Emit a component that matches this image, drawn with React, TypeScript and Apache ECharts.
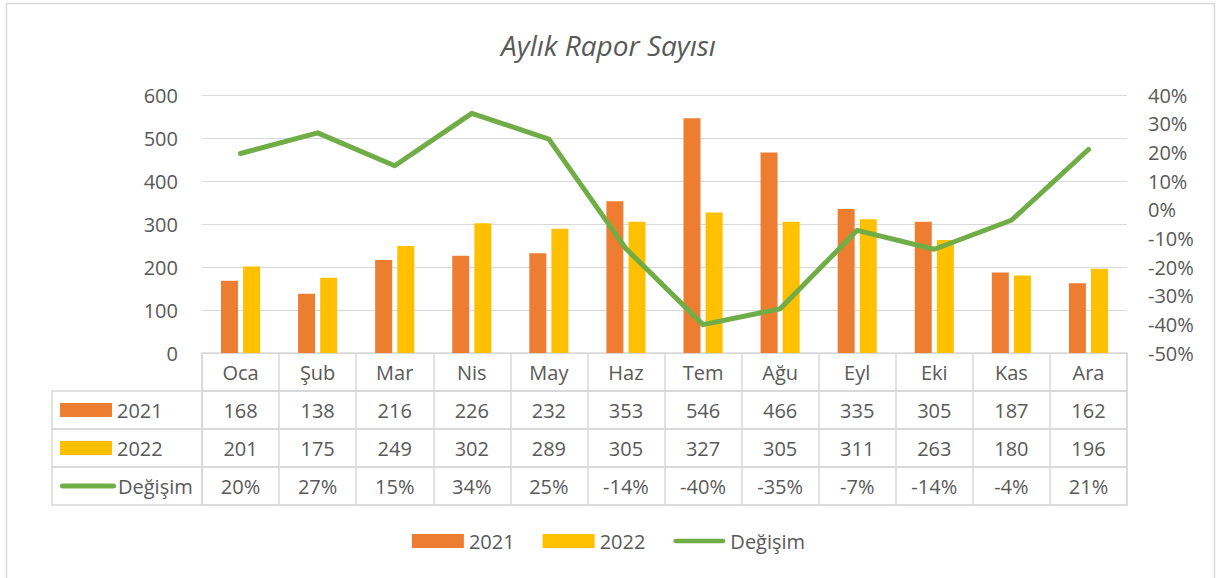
import React, { useEffect, useRef } from 'react';
import * as echarts from 'echarts';

const months = ['Oca', 'Şub', 'Mar', 'Nis', 'May', 'Haz', 'Tem', 'Ağu', 'Eyl', 'Eki', 'Kas', 'Ara'];
const values2021 = [168, 138, 216, 226, 232, 353, 546, 466, 335, 305, 187, 162];
const values2022 = [201, 175, 249, 302, 289, 305, 327, 305, 311, 263, 180, 196];
const changeValues = [0.196, 0.268, 0.153, 0.336, 0.246, -0.136, -0.401, -0.346, -0.072, -0.138, -0.037, 0.21];
const seriesNames = ['2021', '2022', 'Değişim'];
const titleText = 'Aylık Rapor Sayısı';
const leftAxis = { min: 0, max: 600, interval: 100 };
const rightAxis = { min: -0.5, max: 0.4, interval: 0.1 };

const COLORS = ['#ED7D31', '#FFC000', '#70AD47'];
const TEXT = '#595959';
const BORDER = '#D9D9D9';
const FONT = '"Open Sans", "Noto Sans", sans-serif';
const FS = 20;

// layout
const W = 1217;
const H = 578;
const PLOT_L = 202;
const PLOT_R = 1127;
const PLOT_T = 95;
const PLOT_B = 353;
const ROW_H = 38;
const KEY_X = 60;
const TABLE_L = 52;

const pct = (v: number) => `${Math.round(v * 100)}%`;

export default function App() {
  const ref = useRef<HTMLDivElement>(null);

  useEffect(() => {
    if (!ref.current) return;
    const chart = echarts.init(ref.current, null, { renderer: 'svg' });

    const rows = [
      { name: '', fmt: (i: number) => months[i] },
      { name: seriesNames[0], fmt: (i: number) => String(values2021[i]) },
      { name: seriesNames[1], fmt: (i: number) => String(values2022[i]) },
      { name: seriesNames[2], fmt: (i: number) => pct(changeValues[i]) },
    ];

    const grids: any[] = [
      { left: PLOT_L, right: W - PLOT_R, top: PLOT_T, height: PLOT_B - PLOT_T },
    ];
    const xAxes: any[] = [
      {
        type: 'category',
        gridIndex: 0,
        data: months,
        axisLine: { show: true, lineStyle: { color: BORDER, width: 1 } },
        axisTick: { show: false },
        axisLabel: { show: false },
      },
    ];
    const yAxes: any[] = [
      {
        type: 'value',
        gridIndex: 0,
        min: leftAxis.min,
        max: leftAxis.max,
        interval: leftAxis.interval,
        axisLine: { show: false },
        axisTick: { show: false },
        splitLine: { show: true, lineStyle: { color: BORDER, width: 1 } },
        axisLabel: { color: TEXT, fontSize: FS, fontFamily: FONT, margin: 24 },
      },
      {
        type: 'value',
        gridIndex: 0,
        position: 'right',
        min: rightAxis.min,
        max: rightAxis.max,
        interval: rightAxis.interval,
        axisLine: { show: false },
        axisTick: { show: false },
        splitLine: { show: false },
        axisLabel: { color: TEXT, fontSize: FS, fontFamily: FONT, margin: 21, formatter: (v: number) => pct(v) },
      },
    ];

    const keyRich: any = {
      k0: { width: 52, height: 14, backgroundColor: COLORS[0] },
      k1: { width: 52, height: 14, backgroundColor: COLORS[1] },
      k2: { width: 56, height: 5, borderRadius: 2.5, backgroundColor: COLORS[2] },
      t: { color: TEXT, fontSize: FS, fontFamily: FONT, padding: [0, 0, 0, 5] },
      t2: { color: TEXT, fontSize: FS, fontFamily: FONT, padding: [0, 0, 0, 2] },
    };

    rows.forEach((row, r) => {
      const gi = r + 1;
      grids.push({
        left: PLOT_L,
        right: W - PLOT_R,
        top: PLOT_B + r * ROW_H,
        height: ROW_H,
        show: true,
        borderColor: BORDER,
        borderWidth: 1.5,
      });
      xAxes.push({
        type: 'category',
        gridIndex: gi,
        data: months,
        boundaryGap: true,
        axisLine: { show: true, lineStyle: { color: BORDER, width: 1.5 } },
        axisTick: { show: false },
        splitLine: { show: true, interval: 0, lineStyle: { color: BORDER, width: 1.5 } },
        axisLabel: {
          show: true,
          inside: true,
          interval: 0,
          margin: ROW_H / 2,
          verticalAlign: 'middle',
          color: TEXT,
          fontSize: FS,
          fontFamily: FONT,
          formatter: (_v: string, i: number) => row.fmt(i),
        },
      });
      if (r === 0) {
        yAxes.push({ type: 'category', gridIndex: gi, data: [''], show: false });
      } else {
        const k = r - 1;
        yAxes.push({
          type: 'category',
          gridIndex: gi,
          data: [row.name],
          axisLine: { show: false },
          axisTick: { show: false },
          splitLine: { show: false },
          axisLabel: {
            align: 'left',
            margin: PLOT_L - KEY_X,
            formatter: () => `{k${k}|}{${k === 2 ? 't2' : 't'}|${row.name}}`,
            rich: keyRich,
          },
        });
      }
    });

    const tableCells = [1, 2, 3].map((r) => ({
      type: 'rect',
      shape: { x: TABLE_L, y: PLOT_B + r * ROW_H, width: PLOT_L - TABLE_L, height: ROW_H },
      style: { fill: 'none', stroke: BORDER, lineWidth: 1.5 },
      silent: true,
    }));

    chart.setOption({
      animation: false,
      backgroundColor: '#fff',
      title: {
        text: titleText,
        left: 'center',
        top: 26,
        textStyle: { color: TEXT, fontSize: 28, fontStyle: 'italic', fontWeight: 'normal', fontFamily: FONT },
      },
      legend: {
        left: 'center',
        top: 526,
        itemWidth: 52,
        itemHeight: 14,
        itemGap: 28,
        textStyle: { color: TEXT, fontSize: FS, fontFamily: FONT },
        data: [
          { name: seriesNames[0], icon: 'rect' },
          { name: seriesNames[1], icon: 'rect' },
          {
            name: seriesNames[2],
            icon: 'path://M2.5,0 L53.5,0 A2.5,2.5 0 0 1 53.5,5 L2.5,5 A2.5,2.5 0 0 1 2.5,0 Z',
          },
        ],
      },
      graphic: [
        {
          type: 'rect',
          shape: { x: 6.5, y: 3.5, width: 1208, height: 620 },
          style: { fill: 'none', stroke: BORDER, lineWidth: 1.5 },
          silent: true,
          z: -1,
        },
        ...tableCells,
      ],
      grid: grids,
      xAxis: xAxes,
      yAxis: yAxes,
      series: [
        {
          name: seriesNames[0],
          type: 'bar',
          xAxisIndex: 0,
          yAxisIndex: 0,
          data: values2021,
          barWidth: 17,
          barGap: '30%',
          itemStyle: { color: COLORS[0] },
        },
        {
          name: seriesNames[1],
          type: 'bar',
          xAxisIndex: 0,
          yAxisIndex: 0,
          data: values2022,
          barWidth: 17,
          barGap: '30%',
          itemStyle: { color: COLORS[1] },
        },
        {
          name: seriesNames[2],
          type: 'line',
          xAxisIndex: 0,
          yAxisIndex: 1,
          data: changeValues,
          symbol: 'none',
          lineStyle: { color: COLORS[2], width: 5, cap: 'round', join: 'round' },
          itemStyle: { color: COLORS[2] },
          z: 5,
        },
      ],
    });

    return () => chart.dispose();
  }, []);

  return (
    <div
      ref={ref}
      style={{ position: 'absolute', left: 0, top: 0, width: W, height: H, background: '#fff' }}
    />
  );
}
